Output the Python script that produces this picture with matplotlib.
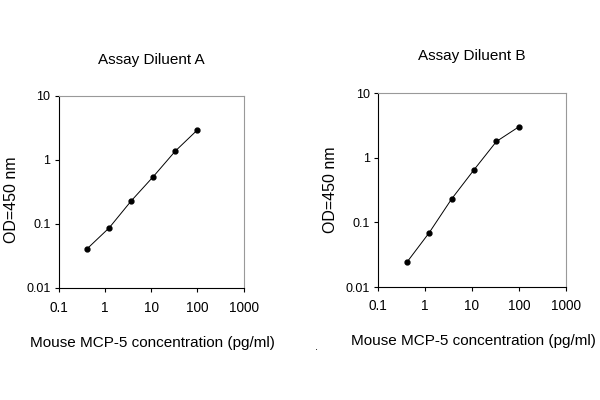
import matplotlib.pyplot as plt

plt.rcParams['font.family'] = ['Liberation Sans', 'DejaVu Sans']

conc = [0.41, 1.23, 3.7, 11.1, 33.3, 100]
od_a = [0.041, 0.087, 0.23, 0.55, 1.38, 2.95]
od_b = [0.024, 0.069, 0.23, 0.65, 1.78, 3.0]

xticks = [0.1, 1, 10, 100, 1000]
xticklabels = ["0.1", "1", "10", "100", "1000"]
yticks = [0.01, 0.1, 1, 10]
yticklabels = ["0.01", "0.1", "1", "10"]

fig = plt.figure(figsize=(6, 4), dpi=100)
ax1 = fig.add_axes([0.098, 0.28, 0.308, 0.48])
ax2 = fig.add_axes([0.63, 0.2825, 0.313, 0.485])


def style(ax, y, title, titlepad, ylab_pos, xlab_pos):
    ax.plot(conc, y, color='black', lw=0.7, marker='o', ms=3.5)
    ax.set_xscale('log')
    ax.set_yscale('log')
    ax.set_xlim(0.1, 1000)
    ax.set_ylim(0.01, 10)
    ax.set_xticks(xticks)
    ax.set_xticklabels(xticklabels)
    ax.set_yticks(yticks)
    ax.set_yticklabels(yticklabels)
    ax.minorticks_off()
    ax.tick_params(length=3, width=0.8)
    ax.tick_params(axis='x', pad=6, labelsize=9.8)
    ax.tick_params(axis='y', pad=3, labelsize=9)
    for side in ['top', 'right']:
        ax.spines[side].set_color('#999999')
        ax.spines[side].set_linewidth(0.8)
    for side in ['left', 'bottom']:
        ax.spines[side].set_linewidth(0.8)
    ax.set_xlabel("Mouse MCP-5 concentration (pg/ml)", fontsize=11)
    ax.xaxis.set_label_coords(*xlab_pos)
    ax.set_ylabel("OD=450 nm", fontsize=11.5)
    ax.yaxis.set_label_coords(*ylab_pos)
    ax.set_title(title, fontsize=11, pad=titlepad)


style(ax1, od_a, "Assay Diluent A", 23, (-0.216, 0.46), (0.508, -0.25))
style(ax2, od_b, "Assay Diluent B", 24, (-0.213, 0.5), (0.51, -0.242))

fig.text(0.527, 0.125, ".", fontsize=8, ha='center')

fig.savefig("out.png", dpi=100)
